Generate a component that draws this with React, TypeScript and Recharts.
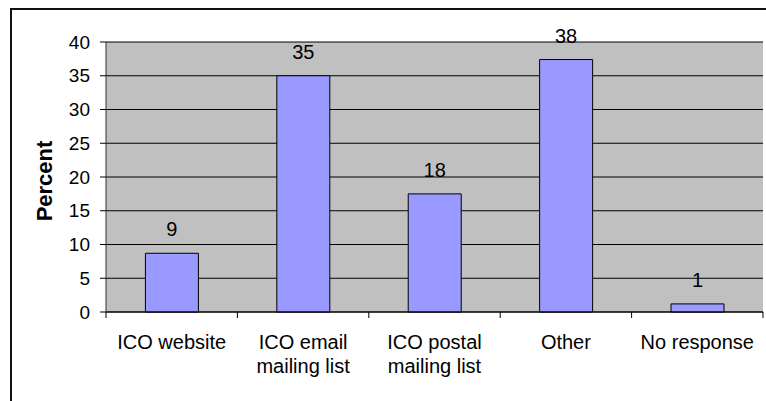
import { BarChart, Bar, XAxis, YAxis, CartesianGrid, LabelList } from 'recharts';

const categories = ['ICO website', 'ICO email\nmailing list', 'ICO postal\nmailing list', 'Other', 'No response'];
const percents   = [8.7, 35, 17.5, 37.4, 1.2];
const valueLabels = ['9', '35', '18', '38', '1'];
const yTicks     = [0, 5, 10, 15, 20, 25, 30, 35, 40];

const data = categories.map((name, i) => ({
  name,
  percent: percents[i],
  label:   valueLabels[i],
}));

const FONT = '"Liberation Sans", Arial, sans-serif';

interface TickProps {
  x?: number;
  y?: number;
  width?: number;
  index?: number;
  visibleTicksCount?: number;
  payload?: { value: string };
}

// Excel-style category axis: tick marks between categories, label in the middle
function CategoryTick({ x = 0, y = 0, width = 0, index = 0, visibleTicksCount = 1, payload }: TickProps) {
  const lines = String(payload?.value ?? '').split('\n');
  const half = width / visibleTicksCount / 2;
  return (
    <g>
      <line x1={x - half} x2={x - half} y1={y} y2={y + 6} stroke="#000" />
      {index === visibleTicksCount - 1 && (
        <line x1={x + half} x2={x + half} y1={y} y2={y + 6} stroke="#000" />
      )}
      <text x={x} y={y + 37} textAnchor="middle" fontSize={20} fontFamily={FONT} fill="#000">
        {lines.map((l, i) => (
          <tspan key={i} x={x} dy={i === 0 ? 0 : 24}>{l}</tspan>
        ))}
      </text>
    </g>
  );
}

export default function App() {
  return (
    <div style={{ position: 'absolute', left: 0, top: 0, width: 766, height: 401, overflow: 'hidden', background: '#fff' }}>
      <div
        style={{
          position: 'absolute', left: 10, top: 8, width: 800, height: 500,
          border: '2px solid #111', boxSizing: 'border-box',
        }}
      />
      <div style={{ position: 'absolute', left: 0, top: 0 }}>
        <BarChart
          width={766}
          height={401}
          data={data}
          margin={{ top: 42, right: 3, bottom: 29, left: 0 }}
          barCategoryGap="30%"
        >
          <CartesianGrid
            vertical={false}
            stroke="#000"
            fill="#C0C0C0"
            fillOpacity={1}
          />
          <XAxis
            dataKey="name"
            height={60}
            tickSize={0}
            tickMargin={0}
            tickLine={false}
            axisLine={{ stroke: '#000' }}
            interval={0}
            tick={<CategoryTick />}
          />
          <XAxis
            xAxisId="top"
            dataKey="name"
            orientation="top"
            height={0}
            tick={false}
            tickLine={false}
            axisLine={{ stroke: '#808080' }}
          />
          <YAxis
            domain={[0, 40]}
            ticks={yTicks}
            width={106}
            tickSize={6}
            tickMargin={10}
            tickLine={{ stroke: '#000' }}
            axisLine={{ stroke: '#333' }}
            tick={{ fontSize: 19, fill: '#000', fontFamily: FONT }}
          />
          <YAxis
            yAxisId="right"
            orientation="right"
            domain={[0, 40]}
            width={0}
            tick={false}
            tickLine={false}
            axisLine={{ stroke: '#808080' }}
          />
          <Bar dataKey="percent" fill="#9999FF" stroke="#000" strokeWidth={1} isAnimationActive={false}>
            <LabelList dataKey="label" position="top" offset={17} fontSize={20} fill="#000" fontFamily={FONT} />
          </Bar>
          <text
            x={52}
            y={181}
            transform="rotate(-90, 52, 181)"
            textAnchor="middle"
            fontSize={22}
            fontWeight="bold"
            fontFamily={FONT}
            fill="#000"
          >
            Percent
          </text>
        </BarChart>
      </div>
    </div>
  );
}
